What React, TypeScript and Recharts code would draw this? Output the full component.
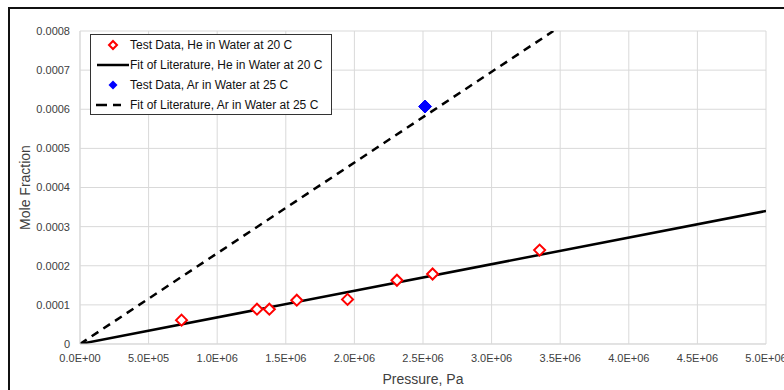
import {
  ComposedChart,
  Line,
  Scatter,
  XAxis,
  YAxis,
  CartesianGrid,
  Legend,
} from "recharts"

const heTestPressure = [7.4e5, 1.29e6, 1.38e6, 1.58e6, 1.95e6, 2.31e6, 2.57e6, 3.35e6]
const heTestFraction = [6.1e-5, 8.9e-5, 8.9e-5, 1.12e-4, 1.14e-4, 1.63e-4, 1.79e-4, 2.4e-4]
const arTestPressure = [2.515e6]
const arTestFraction = [6.07e-4]
const heFitPressure = [0, 5e6]
const heFitFraction = [0, 3.4e-4]
const arFitPressure = [0, 3.45e6]
const arFitFraction = [0, 8e-4]

const xTicks = [0, 5e5, 1e6, 1.5e6, 2e6, 2.5e6, 3e6, 3.5e6, 4e6, 4.5e6, 5e6]
const yTicks = [0, 0.0001, 0.0002, 0.0003, 0.0004, 0.0005, 0.0006, 0.0007, 0.0008]

const legendNames = [
  "Test Data, He in Water at 20 C",
  "Fit of Literature, He in Water at 20 C",
  "Test Data, Ar in Water at 25 C",
  "Fit of Literature, Ar in Water at 25 C",
]

const zip = (xs: number[], ys: number[]) => xs.map((x, i) => ({ x, y: ys[i] }))

const heTest = zip(heTestPressure, heTestFraction)
const arTest = zip(arTestPressure, arTestFraction)
const heFit = zip(heFitPressure, heFitFraction)
const arFit = zip(arFitPressure, arFitFraction)

const FONT = "'Liberation Sans', Arial, sans-serif"

const fmtX = (v: number) => {
  const [m, e] = v.toExponential(1).split("e")
  const n = Number(e)
  return `${m}E${n < 0 ? "-" : "+"}${String(Math.abs(n)).padStart(2, "0")}`
}
const fmtY = (v: number) => (v === 0 ? "0" : v.toFixed(4))

const diamond = (cx: number, cy: number, r: number) =>
  `${cx},${cy - r} ${cx + r},${cy} ${cx},${cy + r} ${cx - r},${cy}`

const RedDiamond = (props: any) => (
  <polygon points={diamond(props.cx, props.cy, 5.5)} fill="#fff" stroke="#ff0000" strokeWidth={2} />
)
const BlueDiamond = (props: any) => (
  <polygon points={diamond(props.cx, props.cy, 6.5)} fill="#0000ff" stroke="#0000ff" strokeWidth={1} />
)

function LegendBox() {
  const marks = [
    <polygon key="a" points={diamond(22, 10, 4)} fill="#fff" stroke="#ff0000" strokeWidth={2} />,
    <line key="b" x1={6} y1={10} x2={38} y2={10} stroke="#000" strokeWidth={2.5} />,
    <polygon key="c" points={diamond(22, 10, 4.5)} fill="#0000ff" />,
    <line key="d" x1={5} y1={10} x2={30} y2={10} stroke="#000" strokeWidth={2.5} strokeDasharray="11 6" />,
  ]
  return (
    <div
      style={{
        width: 242,
        height: 81,
        boxSizing: "border-box",
        border: "1px solid #333",
        background: "#fff",
        fontFamily: FONT,
        fontSize: 12,
        color: "#111",
      }}
    >
      {legendNames.map((name, i) => (
        <div key={name} style={{ position: "relative", height: 20 }}>
          <svg width={40} height={20} style={{ position: "absolute", left: 0, top: 0 }}>
            {marks[i]}
          </svg>
          <span style={{ position: "absolute", left: 39, top: 3, whiteSpace: "nowrap" }}>{name}</span>
        </div>
      ))}
    </div>
  )
}

export default function App() {
  return (
    <div style={{ position: "fixed", left: 0, top: 0, width: 784, height: 390, background: "#fff", overflow: "hidden" }}>
      <div
        style={{
          position: "absolute",
          left: 8,
          top: 7,
          width: 800,
          height: 400,
          borderTop: "2px solid #111",
          borderLeft: "2px solid #111",
        }}
      />
      <div style={{ position: "absolute", left: 0, top: 0 }}>
        <ComposedChart
          width={784}
          height={390}
          margin={{ top: 31, right: 18, bottom: 6, left: 20 }}
          style={{ fontFamily: FONT }}
        >
          <CartesianGrid stroke="#d9d9d9" strokeWidth={1} />
          <XAxis
            dataKey="x"
            type="number"
            domain={[0, 5e6]}
            ticks={xTicks}
            tickFormatter={fmtX}
            allowDataOverflow
            interval={0}
            height={40}
            axisLine={{ stroke: "#d9d9d9" }}
            tickLine={false}
            tickMargin={4}
            tick={{ fill: "#404040", fontSize: 11 }}
            label={{ value: "Pressure, Pa", position: "insideBottom", offset: 0, fill: "#404040", fontSize: 14 }}
          />
          <YAxis
            dataKey="y"
            type="number"
            domain={[0, 0.0008]}
            ticks={yTicks}
            tickFormatter={fmtY}
            allowDataOverflow
            interval={0}
            width={60}
            axisLine={{ stroke: "#d9d9d9" }}
            tickLine={false}
            tickMargin={4}
            tick={{ fill: "#404040", fontSize: 11 }}
            label={{
              value: "Mole Fraction",
              angle: -90,
              position: "insideLeft",
              offset: 5,
              fill: "#404040",
              fontSize: 14,
              style: { textAnchor: "middle" },
            }}
          />
          <Legend
            layout="horizontal"
            verticalAlign="middle"
            align="center"
            wrapperStyle={{ left: 90, top: 34, width: 242, height: 81 }}
            content={() => <LegendBox />}
          />
          <Line
            data={heFit}
            dataKey="y"
            stroke="#000"
            strokeWidth={2.5}
            dot={false}
            activeDot={false}
            isAnimationActive={false}
            legendType="none"
          />
          <Line
            data={arFit}
            dataKey="y"
            stroke="#000"
            strokeWidth={2.5}
            strokeDasharray="8 6"
            dot={false}
            activeDot={false}
            isAnimationActive={false}
            legendType="none"
          />
          <Scatter data={heTest} dataKey="y" shape={RedDiamond} isAnimationActive={false} legendType="none" />
          <Scatter data={arTest} dataKey="y" shape={BlueDiamond} isAnimationActive={false} legendType="none" />
        </ComposedChart>
      </div>
    </div>
  )
}
